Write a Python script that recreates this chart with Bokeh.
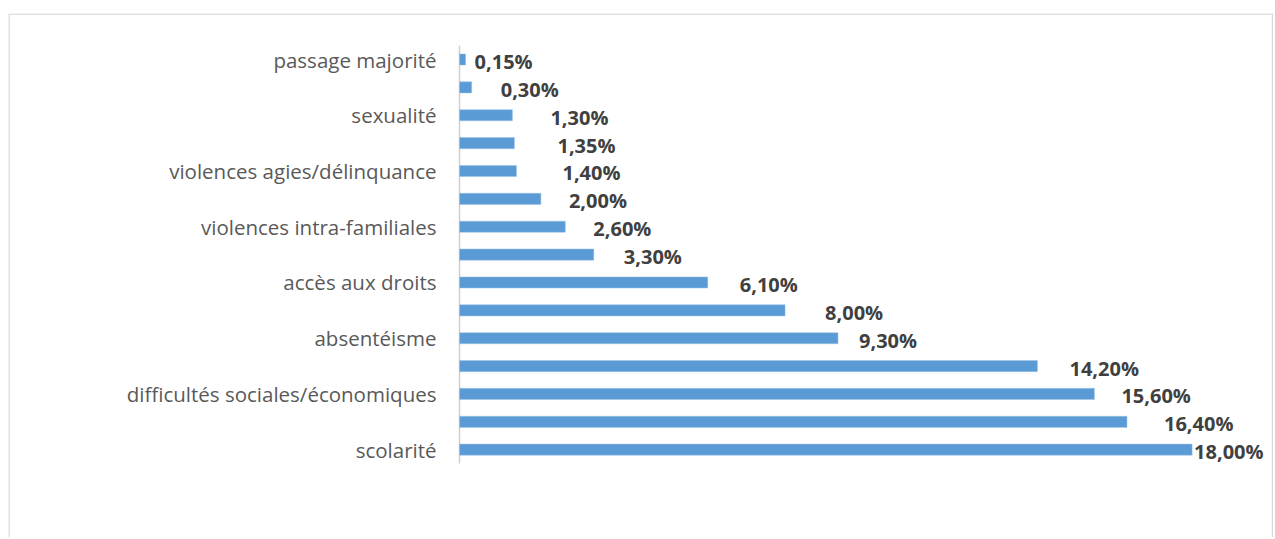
from bokeh.plotting import figure
from bokeh.models import Range1d, ColumnDataSource, Span
from bokeh.core.properties import value
from bokeh.embed import file_html
from bokeh.resources import INLINE

# ---- data (top to bottom) ----
categories = [
    "passage majorité", "", "sexualité", "", "violences agies/délinquance", "",
    "violences intra-familiales", "", "accès aux droits", "", "absentéisme", "",
    "difficultés sociales/économiques", "", "scolarité",
]
values = [0.15, 0.30, 1.30, 1.35, 1.40, 2.00, 2.60, 3.30, 6.10, 8.00, 9.30,
          14.20, 15.60, 16.40, 18.00]
value_labels = ["0,15%", "0,30%", "1,30%", "1,35%", "1,40%", "2,00%", "2,60%",
                "3,30%", "6,10%", "8,00%", "9,30%", "14,20%", "15,60%",
                "16,40%", "18,00%"]

# manual label placement (pixel offsets from bar end), as in the original
label_dx = [9, 29, 38, 43, 46, 28, 28, 30, 32, 40, 21, 32, 27, 37, 2]

n = len(categories)
idx = list(range(n))

src = ColumnDataSource(dict(y=idx, v=values, lab=value_labels, dx=label_dx, cat=categories))

LEFT, TOP = 8, 13
W, H = 1273, 537
px_per_unit = 40.7
x0_px = 451
pitch = 27.87
first_px = 46

frame_w = W - LEFT
frame_h = H - TOP
x_start = -x0_px / px_per_unit
x_end = (frame_w - x0_px) / px_per_unit
y_top = -first_px / pitch
y_bot = y_top + frame_h / pitch

p = figure(width=W, height=H, output_backend="svg", toolbar_location=None,
           x_range=Range1d(x_start, x_end), y_range=Range1d(y_bot, y_top),
           min_border_left=LEFT, min_border_right=0, min_border_top=TOP,
           min_border_bottom=0)
p.xaxis.visible = False
p.yaxis.visible = False
p.xgrid.visible = False
p.ygrid.visible = False
p.outline_line_color = None
p.background_fill_color = "white"
p.border_fill_color = "white"

# chart-area border (open at the bottom, as in the cropped original)
border = "#d9d9d9"
p.add_layout(Span(location=x_start + 0.5 / px_per_unit, dimension="height", line_color=border, line_width=1.5))
p.add_layout(Span(location=x_end - 1.0 / px_per_unit, dimension="height", line_color=border, line_width=1.5))
p.add_layout(Span(location=y_top + 0.5 / pitch, dimension="width", line_color=border, line_width=1.5))

# vertical category axis line
p.segment(x0=[0], x1=[0], y0=[-0.5], y1=[n - 0.5], line_color="#d0d0d0", line_width=1.5)

p.hbar(y="y", left=0, right="v", height=0.4, source=src,
       fill_color="#5b9bd5", line_color="#9dc3e6", line_width=0.5)

# category labels
p.text(x=0, y="y", text="cat", source=src, x_offset=-23, y_offset=0,
       text_align="right", text_baseline="middle",
       text_font=value("Open Sans"), text_font_size="20.5px", text_color="#595959")

# value labels
p.text(x="v", y="y", text="lab", source=src, x_offset="dx", y_offset=2,
       text_align="left", text_baseline="middle",
       text_font=value("Open Sans"), text_font_size="20px",
       text_font_style="bold", text_color="#404040")

open("out.html", "w").write(file_html(p, INLINE))
